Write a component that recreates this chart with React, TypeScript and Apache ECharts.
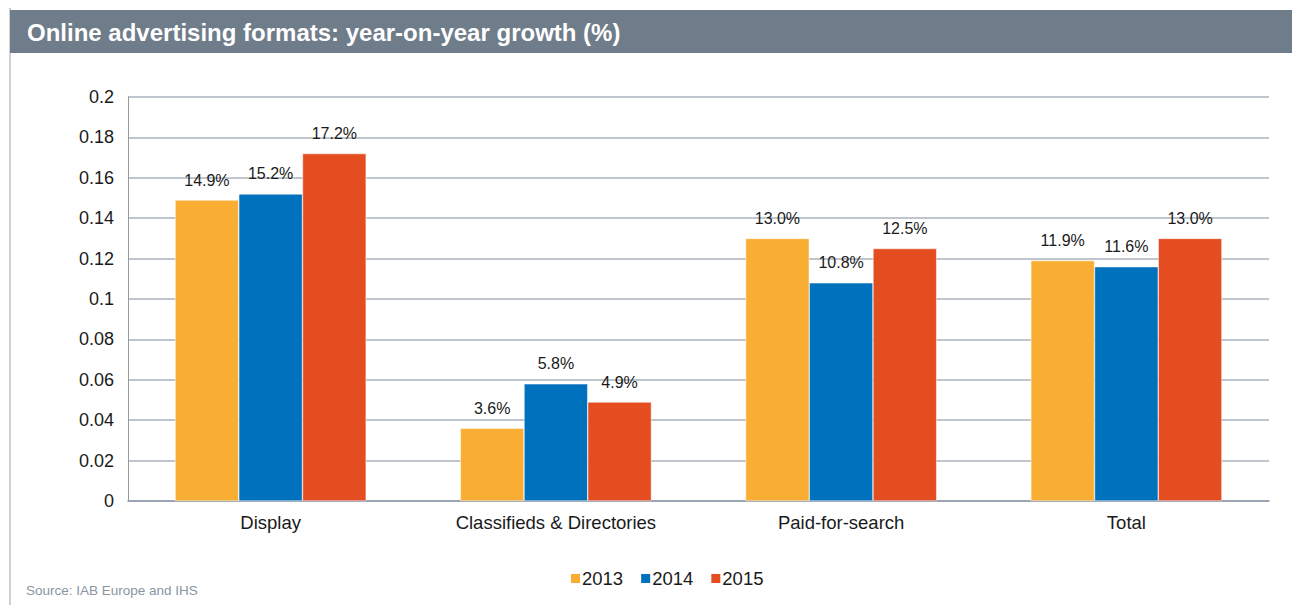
import React, { useEffect, useRef } from "react";
import * as echarts from "echarts";

const categories = ["Display", "Classifieds & Directories", "Paid-for-search", "Total"];
const years = ["2013", "2014", "2015"];
const values2013 = [0.149, 0.036, 0.13, 0.119];
const values2014 = [0.152, 0.058, 0.108, 0.116];
const values2015 = [0.172, 0.049, 0.125, 0.13];
const colors = ["#f9ae33", "#0071bc", "#e44d20"];
const titleText = "Online advertising formats: year-on-year growth (%)";
const sourceText = "Source: IAB Europe and IHS";

const FONT = "'Liberation Sans', Arial, sans-serif";

export default function App() {
  const ref = useRef<HTMLDivElement>(null);
  useEffect(() => {
    if (!ref.current) return;
    const chart = echarts.init(ref.current, undefined, { renderer: "svg" });
    const seriesData = [values2013, values2014, values2015];
    chart.setOption({
      animation: false,
      textStyle: { fontFamily: FONT },
      graphic: [
        { type: "line", shape: { x1: 2, y1: 0, x2: 2, y2: 605 }, style: { stroke: "#9aa3ae", lineWidth: 1 } },
        { type: "line", shape: { x1: 2, y1: -1, x2: 1300, y2: -1 }, style: { stroke: "#c8ccd2", lineWidth: 1 } },
        { type: "rect", shape: { x: 2, y: 2, width: 1298, height: 43 }, style: { fill: "#6f7c8a" } },
        {
          type: "text",
          x: 19,
          y: 24,
          style: { text: titleText, fill: "#ffffff", font: `bold 24px ${FONT}`, verticalAlign: "middle" },
        },
        {
          type: "text",
          x: 18,
          y: 582,
          style: { text: sourceText, fill: "#8a95a2", font: `13.5px ${FONT}`, verticalAlign: "middle" },
        },
      ],
      legend: {
        data: years,
        left: 561,
        top: 561,
        padding: 0,
        itemWidth: 11,
        itemHeight: 11,
        itemGap: 16,
        icon: "rect",
        textStyle: { fontSize: 18.5, color: "#1a1a1a", fontFamily: FONT, padding: [0, 0, 0, -4] },
      },
      grid: { left: 120, right: 31, top: 89, bottom: 104, containLabel: false },
      xAxis: {
        type: "category",
        data: categories,
        axisLine: { lineStyle: { color: "#8f9aa8", width: 1.5 } },
        axisTick: { inside: true, length: 5, lineStyle: { color: "#8f9aa8" } },
        axisLabel: { fontSize: 18.5, color: "#1a1a1a", margin: 12, fontFamily: FONT },
      },
      yAxis: {
        type: "value",
        min: 0,
        max: 0.2,
        interval: 0.02,
        axisLine: { show: true, lineStyle: { color: "#8f9aa8" } },
        axisTick: { show: false },
        axisLabel: { fontSize: 18, color: "#1a1a1a", margin: 14, fontFamily: FONT },
        splitLine: { lineStyle: { color: "#aab2bd", width: 1.5 } },
      },
      series: years.map((y, i) => ({
        name: y,
        type: "bar",
        data: seriesData[i],
        barGap: "0%",
        barCategoryGap: "33%",
        itemStyle: { color: colors[i], borderColor: "#ffffff", borderWidth: 0.5 },
        label: {
          show: true,
          position: "top",
          distance: 12,
          fontSize: 16,
          color: "#1a1a1a",
          fontFamily: FONT,
          formatter: (p: any) => (p.value * 100).toFixed(1) + "%",
        },
      })),
    });
    return () => chart.dispose();
  }, []);
  return <div ref={ref} style={{ width: 1292, height: 597 }} />;
}
